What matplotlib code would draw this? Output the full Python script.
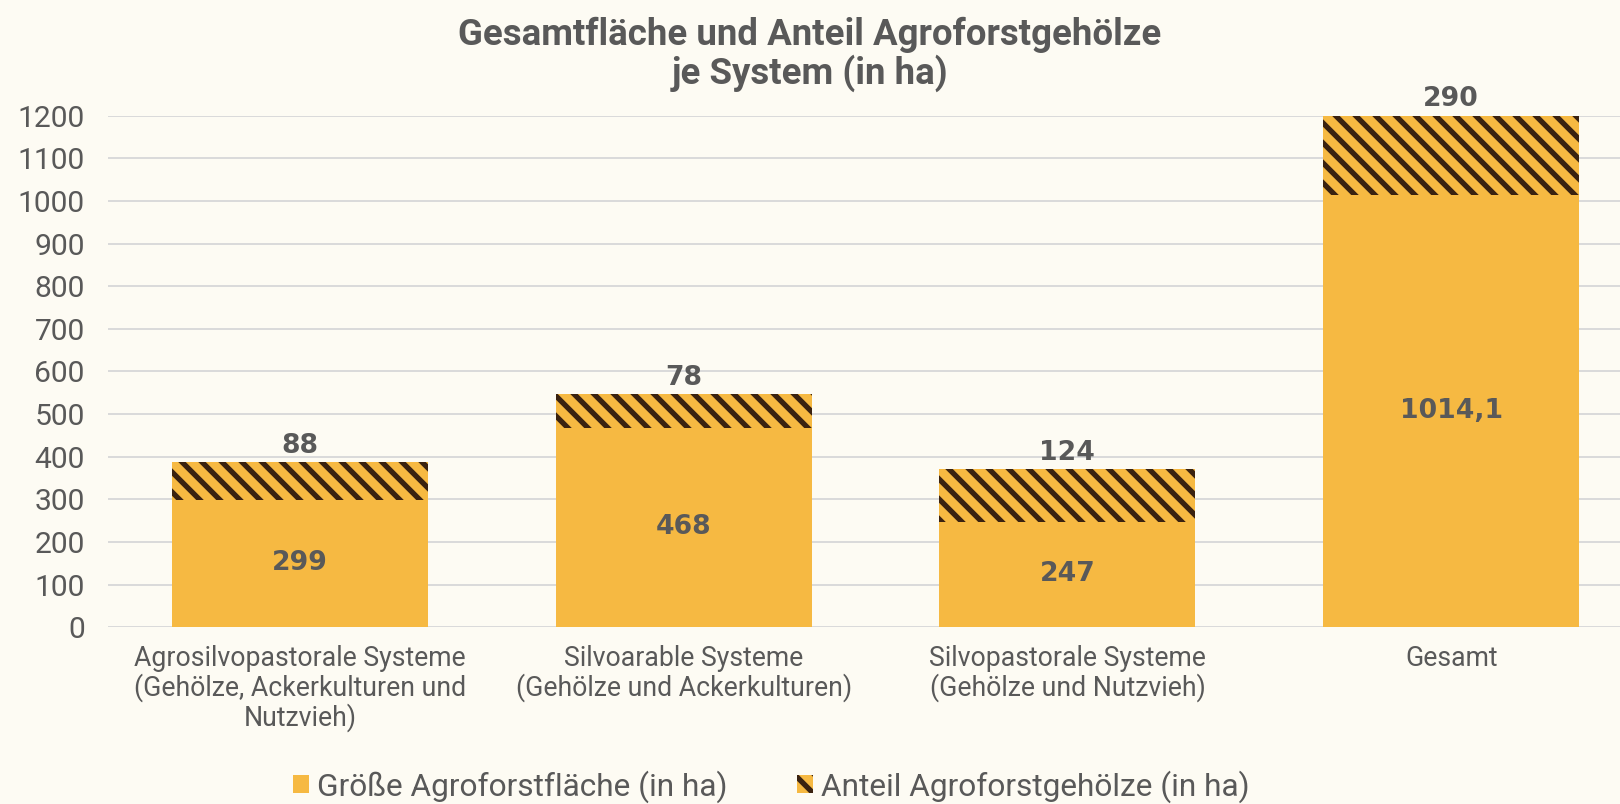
import matplotlib
matplotlib.use('Agg')
import matplotlib.pyplot as plt
from matplotlib.patches import Patch

# ── Data ─────────────────────────────────────────────
categories = [
    'Agrosilvopastorale Systeme\n(Gehölze, Ackerkulturen und\nNutzvieh)',
    'Silvoarable Systeme\n(Gehölze und Ackerkulturen)',
    'Silvopastorale Systeme\n(Gehölze und Nutzvieh)',
    'Gesamt',
]
flaeche = [299, 468, 247, 1014.1]
gehoelze = [88, 78, 124, 290]
flaeche_labels = ['299', '468', '247', '1014,1']
gehoelze_labels = ['88', '78', '124', '290']

ORANGE = '#F6B942'
BROWN = '#3A2210'
TEXT = '#595959'
BG = '#FDFBF3'
GRID = '#DADADA'
YMAX = 1200

plt.rcParams['font.family'] = ['Roboto', 'DejaVu Sans']
plt.rcParams['hatch.linewidth'] = 3.2

fig = plt.figure(figsize=(13.5, 6.7), dpi=120, facecolor=BG)
ax = fig.add_axes([0.0667, 0.22, 0.9333, 0.636])
ax.set_facecolor(BG)

x = range(len(categories))
ax.bar(x, flaeche, width=0.667, color=ORANGE, linewidth=0, zorder=2)
ax.bar(x, gehoelze, bottom=flaeche, width=0.667, color=ORANGE,
       edgecolor=BROWN, hatch='\\\\', linewidth=0, zorder=2)

# value labels: inner (base) and on top (hatched share)
for i in x:
    ax.text(i, flaeche[i] / 2, flaeche_labels[i], ha='center', va='center',
            fontsize=16, fontweight='bold', color=TEXT, family='DejaVu Sans', zorder=3)
    top = min(flaeche[i] + gehoelze[i], YMAX)
    ax.annotate(gehoelze_labels[i], (i, top), xytext=(0, 2), textcoords='offset points',
                ha='center', va='bottom', fontsize=16, fontweight='bold',
                color=TEXT, family='DejaVu Sans', annotation_clip=False)

ax.set_ylim(0, YMAX)
ax.set_xlim(-0.5, 3.44)
ax.set_yticks(range(0, 1201, 100))
ax.set_xticks(list(x))
ax.set_xticklabels(categories, fontsize=16, color=TEXT, linespacing=1.05)
ax.tick_params(axis='y', labelsize=18, labelcolor=TEXT, length=0, pad=14)
ax.tick_params(axis='x', length=0, pad=11)
ax.grid(axis='y', color=GRID, linewidth=1.2, zorder=0)
ax.set_axisbelow(True)
for s in ax.spines.values():
    s.set_visible(False)

fig.text(0.5, 0.886, 'Gesamtfläche und Anteil Agroforstgehölze\nje System (in ha)',
         ha='center', va='bottom', fontsize=22, fontweight='bold', color=TEXT,
         linespacing=1.05)

handles = [Patch(facecolor=ORANGE, linewidth=0, label='Größe Agroforstfläche (in ha)'),
           Patch(facecolor=ORANGE, edgecolor=BROWN, hatch='\\\\', linewidth=0,
                 label='Anteil Agroforstgehölze (in ha)')]
fig.legend(handles=handles, loc='center', bbox_to_anchor=(0.476, 0.022), ncol=2,
           frameon=False, fontsize=19, labelcolor=TEXT, handlelength=0.5,
           handleheight=0.5, handletextpad=0.25, columnspacing=2.2)

fig.savefig('out.png', dpi=120, facecolor=BG)
